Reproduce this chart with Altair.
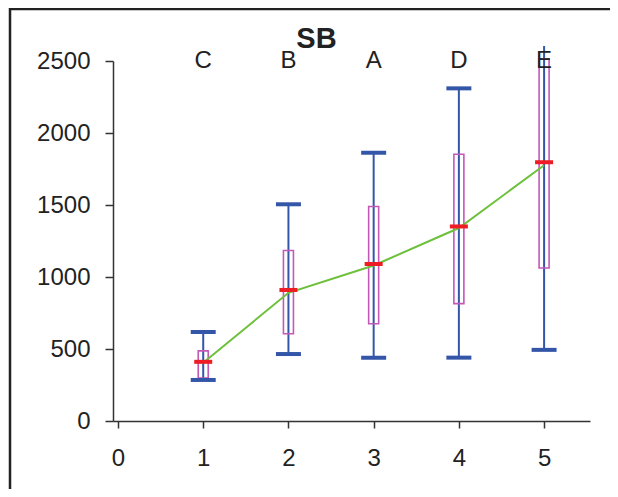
import altair as alt
import pandas as pd

positions = [1, 2, 3, 4, 5]
letters = ["C", "B", "A", "D", "E"]
whisker_low = [285, 465, 440, 440, 494]
whisker_high = [618, 1505, 1862, 2310, 2604]
q1 = [299, 606, 675, 815, 1062]
q3 = [487, 1184, 1490, 1852, 2516]
medians = [411, 910, 1090, 1351, 1797]
means = [405, 890, 1080, 1340, 1776]
letter_level = [2500, 2500, 2500, 2500, 2500]

df = pd.DataFrame({
    "x": positions, "letter": letters, "lo": whisker_low, "hi": whisker_high,
    "q1": q1, "q3": q3, "median": medians, "mean": means, "ly": letter_level,
})

FONT = "Liberation Sans"
BLUE = "#3456a8"
PINK = "#c458b8"
RED = "#ee1c24"
GREEN = "#6cc03a"

xs = alt.Scale(domain=[0, 5.48], nice=False, zero=False)
ys = alt.Scale(domain=[0, 2500], nice=False)

xaxis = alt.Axis(values=[0, 1, 2, 3, 4, 5], title=None, grid=False, format="d",
                 labelFontSize=24, labelFont=FONT, labelColor="#222",
                 domainColor="#333", domainWidth=1.5, tickColor="#333",
                 tickWidth=1.5, tickSize=7, labelPadding=18)
yaxis = alt.Axis(values=[0, 500, 1000, 1500, 2000, 2500], title=None, grid=False, format="d",
                 labelFontSize=24, labelFont=FONT, labelColor="#222",
                 domainColor="#333", domainWidth=1.5, tickColor="#333",
                 tickWidth=1.5, tickSize=8, labelPadding=15)

base = alt.Chart(df)

whisk = base.mark_rule(color=BLUE, strokeWidth=2).encode(
    x=alt.X("x:Q", scale=xs, axis=xaxis),
    y=alt.Y("lo:Q", scale=ys, axis=yaxis),
    y2="hi:Q",
)
box = base.mark_bar(fill="transparent", stroke=PINK, strokeWidth=1.6, size=10).encode(
    x="x:Q", y="q1:Q", y2="q3:Q",
)
cap_lo = base.mark_tick(orient="horizontal", color=BLUE, size=25, thickness=4, opacity=1).encode(
    x="x:Q", y="lo:Q",
)
cap_hi = base.transform_filter("datum.hi <= 2500").mark_tick(
    orient="horizontal", color=BLUE, size=25, thickness=4, opacity=1).encode(
    x="x:Q", y="hi:Q",
)
line = base.mark_line(color=GREEN, strokeWidth=2).encode(x="x:Q", y="mean:Q")
med = base.mark_tick(orient="horizontal", color=RED, size=18, thickness=4, opacity=1).encode(
    x="x:Q", y="median:Q",
)
text = base.mark_text(font=FONT, fontSize=24, color="#222", baseline="middle").encode(
    x="x:Q", y="ly:Q", text="letter:N",
)

frame_top = alt.Chart(df.head(1)).mark_rule(color="#222", strokeWidth=2.5).encode(
    x=alt.value(-104), x2=alt.value(600), y=alt.value(-52),
)
frame_left = alt.Chart(df.head(1)).mark_rule(color="#222", strokeWidth=2.5).encode(
    x=alt.value(-103), y=alt.value(-53), y2=alt.value(500),
)

chart = alt.layer(whisk, box, cap_lo, cap_hi, line, med, text, frame_top, frame_left).properties(
    width=477, height=360,
    title=alt.TitleParams("SB", font=FONT, fontSize=29, fontWeight="bold", color="#222",
                          anchor="middle", frame="group", dx=-35, offset=-70,
                          baseline="alphabetic"),
    autosize=alt.AutoSizeParams(type="none"),
    padding={"left": 105, "top": 53, "right": 20, "bottom": 68},
    background="white",
).configure_view(stroke=None)

chart.save("out.html", embed_options={"renderer": "svg", "actions": False})
